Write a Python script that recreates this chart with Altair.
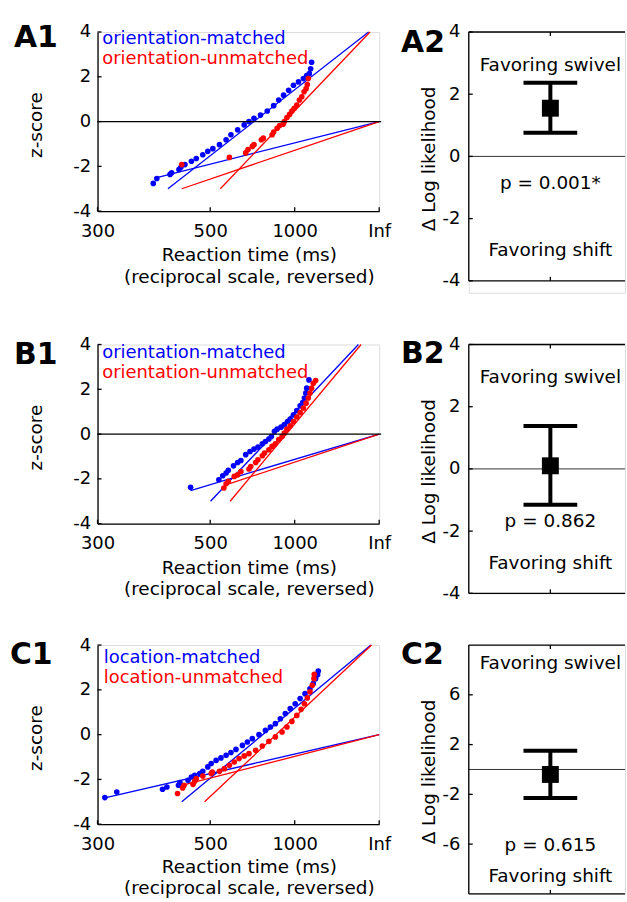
import math
import altair as alt
import pandas as pd

INF = float("inf")
FONT = "DejaVu Sans"
BLUE = "#0000ff"
RED = "#ff0000"

# ---------------- data: reciprobit panels (RT in ms, z-score) ----------------
A1_MATCHED_RT = [374, 380, 404, 407, 422, 426, 435, 450, 462, 479, 493, 508, 529, 552, 570, 597,
                 626, 649, 675, 712, 755, 801, 841, 884, 933, 986, 1047, 1115, 1166, 1209, 1233, 1250]
A1_MATCHED_Z = [-2.76, -2.54, -2.36, -2.29, -2.14, -2.04, -1.92, -1.77, -1.65, -1.48, -1.33, -1.21,
                -1.03, -0.81, -0.59, -0.37, -0.15, 0.0, 0.15, 0.29, 0.47, 0.71, 0.96, 1.18, 1.40,
                1.62, 1.77, 1.92, 2.06, 2.14, 2.36, 2.65]
A1_UNMATCHED_RT = [428, 564, 633, 644, 666, 675, 717, 729, 789, 801, 828, 849, 879, 891, 916, 943,
                   968, 994, 1026, 1059, 1092, 1125, 1156, 1176, 1192]
A1_UNMATCHED_Z = [-1.92, -1.60, -1.40, -1.25, -1.11, -1.03, -0.81, -0.74, -0.59, -0.47, -0.30, -0.18,
                  -0.12, 0.0, 0.18, 0.32, 0.47, 0.59, 0.74, 0.96, 1.11, 1.33, 1.47, 1.65, 1.92]
A1_FIT_MATCHED_MAIN_RT = [400, 8000]
A1_FIT_MATCHED_MAIN_Z = [-3, 4]
A1_FIT_MATCHED_EARLY_RT = [380, INF]
A1_FIT_MATCHED_EARLY_Z = [-2.5, 0]
A1_FIT_UNMATCHED_MAIN_RT = [532, 9200]
A1_FIT_UNMATCHED_MAIN_Z = [-3, 4]
A1_FIT_UNMATCHED_EARLY_RT = [428, INF]
A1_FIT_UNMATCHED_EARLY_Z = [-3, 0]
A1_LEGEND = ["orientation-matched", "orientation-unmatched"]

B1_MATCHED_RT = [448, 527, 540, 552, 560, 580, 597, 611, 633, 654, 675, 697, 723, 743, 766, 784,
                 807, 828, 861, 891, 922, 950, 986, 1026, 1069, 1105, 1130, 1151, 1166, 1203]
B1_MATCHED_Z = [-2.38, -2.04, -1.86, -1.74, -1.62, -1.42, -1.27, -1.18, -0.92, -0.78, -0.67, -0.58,
                -0.43, -0.33, -0.22, -0.11, 0.12, 0.22, 0.31, 0.42, 0.56, 0.67, 0.86, 1.05, 1.26,
                1.41, 1.61, 1.83, 2.05, 2.42]
B1_UNMATCHED_RT = [544, 552, 560, 583, 597, 611, 649, 658, 684, 697, 723, 737, 766, 789, 814, 841,
                   870, 891, 916, 950, 986, 1026, 1069, 1115, 1156, 1192, 1221, 1250, 1282, 1330]
B1_UNMATCHED_Z = [-2.41, -2.22, -2.11, -1.89, -1.82, -1.67, -1.56, -1.45, -1.27, -1.15, -0.97, -0.85,
                  -0.70, -0.55, -0.43, -0.25, -0.11, 0.04, 0.22, 0.37, 0.56, 0.76, 0.96, 1.16, 1.38,
                  1.61, 1.83, 2.05, 2.27, 2.39]
B1_FIT_MATCHED_MAIN_RT = [501, 4070]
B1_FIT_MATCHED_MAIN_Z = [-3, 4]
B1_FIT_MATCHED_EARLY_RT = [448, INF]
B1_FIT_MATCHED_EARLY_Z = [-2.52, 0]
B1_FIT_UNMATCHED_MAIN_RT = [567, 4670]
B1_FIT_UNMATCHED_MAIN_Z = [-3, 4]
B1_FIT_UNMATCHED_EARLY_RT = [546, INF]
B1_FIT_UNMATCHED_EARLY_Z = [-2.29, 0]
B1_LEGEND = ["orientation-matched", "orientation-unmatched"]

C1_MATCHED_RT = [308, 322, 390, 398, 421, 424, 442, 450, 458, 471, 479, 493, 503, 518, 534, 552,
                 570, 590, 618, 641, 666, 703, 743, 777, 814, 855, 900, 950, 1006, 1069, 1140,
                 1221, 1282, 1330, 1372, 1387]
C1_MATCHED_Z = [-2.81, -2.56, -2.44, -2.34, -2.26, -2.14, -2.04, -1.89, -1.82, -1.74, -1.64, -1.44,
                -1.29, -1.15, -1.04, -0.92, -0.80, -0.66, -0.48, -0.33, -0.18, 0.0, 0.19, 0.34,
                0.49, 0.71, 0.94, 1.16, 1.38, 1.61, 1.83, 2.05, 2.28, 2.50, 2.68, 2.84]
C1_UNMATCHED_RT = [419, 430, 433, 454, 458, 462, 479, 503, 506, 529, 546, 564, 583, 603, 626, 649,
                   684, 723, 766, 814, 870, 916, 968, 1026, 1082, 1130, 1176, 1221, 1263, 1295, 1302]
C1_UNMATCHED_Z = [-2.63, -2.38, -2.26, -2.22, -2.08, -1.96, -1.85, -1.74, -1.67, -1.64, -1.52, -1.37,
                  -1.22, -1.07, -0.95, -0.85, -0.70, -0.51, -0.30, -0.10, 0.12, 0.34, 0.59, 0.86,
                  1.13, 1.38, 1.64, 1.91, 2.20, 2.50, 2.69]
C1_FIT_MATCHED_MAIN_RT = [428, 10200]
C1_FIT_MATCHED_MAIN_Z = [-3, 4]
C1_FIT_MATCHED_EARLY_RT = [308, INF]
C1_FIT_MATCHED_EARLY_Z = [-2.82, 0]
C1_FIT_UNMATCHED_MAIN_RT = [484, 11100]
C1_FIT_UNMATCHED_MAIN_Z = [-3, 4]
C1_FIT_UNMATCHED_EARLY_RT = [430, INF]
C1_FIT_UNMATCHED_EARLY_Z = [-2.26, 0]
C1_LEGEND = ["location-matched", "location-unmatched"]

X_TICK_RT = [300, 500, 1000, INF]
X_TICK_LABELS = ["300", "500", "1000", "Inf"]
Z_TICKS = [-4, -2, 0, 2, 4]
X_TITLE = ["Reaction time (ms)", "(reciprocal scale, reversed)"]
Z_TITLE = "z-score"

# ---------------- data: model comparison panels ----------------
DLL_LABELS = ["A2", "B2", "C2"]
DLL_MEAN = [1.55, 0.10, -0.40]
DLL_LOW = [0.76, -1.15, -2.30]
DLL_HIGH = [2.37, 1.38, 1.50]
DLL_P_TEXT = ["p = 0.001*", "p = 0.862", "p = 0.615"]
DLL_DOMAINS = [[-4, 4], [-4, 4], [-10, 10]]
DLL_TICKS = [[-4, -2, 0, 2, 4], [-4, -2, 0, 2, 4], [-6, -2, 2, 6]]
DLL_TITLE = "\u0394 Log likelihood"
TXT_SWIVEL = "Favoring swivel"
TXT_SHIFT = "Favoring shift"

# ---------------- layout (pixels) ----------------
LW, LH = 283, 180          # reciprobit plot area
RW, RBOX = 157, 250        # model-comparison plot area (box height)
RCX = 82                   # x of the error bar inside the box
RIGHT_CELL_H = [262, 250, 250]   # row A is taller to reproduce the uneven row gaps
LEFT_LAYOUT = [
    dict(label="A1", label_x=-84, label_y=15.5, leg_x=4.7, leg_y=[12.5, 32.5], zero=True,
         title_y=50, title_lh=21.5),
    dict(label="B1", label_x=-84, label_y=19.8, leg_x=4.7, leg_y=[13.8, 33.8], zero=True,
         title_y=50, title_lh=21.5),
    dict(label="C1", label_x=-88, label_y=19.5, leg_x=6.3, leg_y=[17.8, 37.8], zero=False,
         title_y=49, title_lh=21),
]
RIGHT_LAYOUT = [
    dict(label_y=20.5, text_y=[33, 151.5, 219.5]),
    dict(label_y=18.5, text_y=[32.5, 177.5, 219.5]),
    dict(label_y=19.5, text_y=[18.5, 200.5, 232.5]),
]


def promptness(rt):
    return 0.0 if math.isinf(rt) else -1000.0 / rt


X_TICK_X = [promptness(r) for r in X_TICK_RT]
X_DOMAIN = [X_TICK_X[0], X_TICK_X[-1]]


def label_expr(vals, labels):
    expr = "'%s'" % labels[-1]
    for i in range(len(vals) - 2, -1, -1):
        mid = (vals[i] + vals[i + 1]) / 2
        expr = "datum.value < %.6f ? '%s' : (%s)" % (mid, labels[i], expr)
    return expr


AXIS_STYLE = dict(labelFont=FONT, labelFontSize=18, labelColor="black", titleFont=FONT,
                  titleFontSize=18.5, titleFontWeight="normal", titleColor="black", grid=False,
                  ticks=False, tickSize=0, labelOverlap=False, labelFlush=False)

ONE = pd.DataFrame({"k": [0]})


def text_layer(s, x, y, size=18.5, weight="normal", align="center", baseline="middle",
               color="black"):
    return alt.Chart(pd.DataFrame({"t": [s]})).mark_text(
        align=align, baseline=baseline, font=FONT, fontSize=size, fontWeight=weight, color=color
    ).encode(text="t:N", x=alt.value(x), y=alt.value(y))


def left_panel(lay, m_rt, m_z, u_rt, u_z, fits, legend, anchor=False):
    xs = alt.Scale(domain=X_DOMAIN, nice=False, zero=False)
    ys = alt.Scale(domain=[Z_TICKS[0], Z_TICKS[-1]], nice=False, zero=False)
    cs = alt.Scale(domain=["matched", "unmatched"], range=[BLUE, RED])
    xa = alt.Axis(values=X_TICK_X, labelExpr=label_expr(X_TICK_X, X_TICK_LABELS),
                  domainColor="black", domainWidth=1.3, labelPadding=11, title=X_TITLE,
                  titleX=152, titleY=lay["title_y"], titleAlign="center",
                  titleBaseline="alphabetic", titleLineHeight=lay["title_lh"], **AXIS_STYLE)
    ya = alt.Axis(values=Z_TICKS, labelExpr="'' + datum.value", domainColor="black",
                  domainWidth=1.3, labelPadding=7, title=Z_TITLE, titleX=-62, titleY=93,
                  titleAngle=270, titleAlign="center", titleBaseline="middle", **AXIS_STYLE)

    def X():
        return alt.X("x:Q", scale=xs, axis=xa)

    def Y():
        return alt.Y("z:Q", scale=ys, axis=ya)

    color = alt.Color("cond:N", scale=cs, legend=None)
    pts = pd.DataFrame({
        "cond": ["matched"] * len(m_rt) + ["unmatched"] * len(u_rt),
        "x": [promptness(r) for r in list(m_rt) + list(u_rt)],
        "z": list(m_z) + list(u_z),
    })
    rows = []
    for fid, (cond, rts, zs) in enumerate(fits):
        for r, z in zip(rts, zs):
            rows.append({"fit": fid, "cond": cond, "x": promptness(r), "z": z})
    fit_df = pd.DataFrame(rows)

    layers = [
        alt.Chart(fit_df).mark_line(strokeWidth=1.3).encode(x=X(), y=Y(), color=color,
                                                            detail="fit:N"),
        alt.Chart(pts).mark_circle(size=32, opacity=1).encode(x=X(), y=Y(), color=color),
        alt.Chart(pd.DataFrame({"x": X_TICK_X})).mark_rule(color="black", strokeWidth=1.3)
        .encode(x=X(), y=alt.value(LH), y2=alt.value(LH - 4)),
        alt.Chart(pd.DataFrame({"z": Z_TICKS})).mark_rule(color="black", strokeWidth=1.3)
        .encode(y=Y(), x=alt.value(0), x2=alt.value(4)),
    ]
    if lay["zero"]:
        layers.append(alt.Chart(pd.DataFrame({"z": [0]})).mark_rule(color="black", strokeWidth=1.3)
                      .encode(y=Y(), x=alt.value(0), x2=alt.value(LW + 2)))
    layers.append(text_layer(legend[0], lay["leg_x"], lay["leg_y"][0], size=18, align="left",
                             baseline="alphabetic", color=BLUE))
    layers.append(text_layer(legend[1], lay["leg_x"], lay["leg_y"][1], size=18, align="left",
                             baseline="alphabetic", color=RED))
    layers.append(text_layer(lay["label"], lay["label_x"], lay["label_y"], size=30,
                             weight="bold", align="left", baseline="alphabetic"))
    if anchor:
        layers.append(alt.Chart(ONE).mark_square(size=1, color="white", opacity=1)
                      .encode(x=alt.value(-96.5), y=alt.value(-29)))
    return alt.layer(*layers).properties(width=LW, height=LH)


def right_panel(i):
    lay = RIGHT_LAYOUT[i]
    ys = alt.Scale(domain=DLL_DOMAINS[i], range=[RBOX, 0], nice=False, zero=False)
    ya = alt.Axis(values=DLL_TICKS[i], labelExpr="'' + datum.value", domain=False,
                  labelPadding=9, title=DLL_TITLE, titleX=-40, titleY=127, titleAngle=270,
                  titleAlign="center", titleBaseline="middle", **AXIS_STYLE)
    df = pd.DataFrame({"mean": [DLL_MEAN[i]], "low": [DLL_LOW[i]], "high": [DLL_HIGH[i]]})

    def Y(f):
        return alt.Y(f + ":Q", scale=ys, axis=ya)

    cx = alt.value(RCX)
    tick_df = pd.DataFrame({"v": DLL_TICKS[i]})
    frame = dict(color="black", strokeWidth=1.3)
    layers = [
        # zero reference line
        alt.Chart(pd.DataFrame({"v": [0]})).mark_rule(color="#333333", strokeWidth=1)
        .encode(y=Y("v"), x=alt.value(0), x2=alt.value(RW)),
        # box frame (right edge lies outside the window)
        alt.Chart(ONE).mark_rule(**frame).encode(x=alt.value(0), y=alt.value(0),
                                                 y2=alt.value(RBOX)),
        alt.Chart(ONE).mark_rule(**frame).encode(y=alt.value(0), x=alt.value(0),
                                                 x2=alt.value(RW)),
        alt.Chart(ONE).mark_rule(**frame).encode(y=alt.value(RBOX), x=alt.value(0),
                                                 x2=alt.value(RW)),
        # inward ticks
        alt.Chart(tick_df).mark_rule(**frame).encode(y=Y("v"), x=alt.value(0), x2=alt.value(4)),
        alt.Chart(ONE).mark_rule(**frame).encode(x=cx, y=alt.value(0), y2=alt.value(4)),
        alt.Chart(ONE).mark_rule(**frame).encode(x=cx, y=alt.value(RBOX), y2=alt.value(RBOX - 4)),
        # error bar
        alt.Chart(df).mark_rule(color="black", strokeWidth=4)
        .encode(x=cx, y=Y("low"), y2="high:Q"),
        alt.Chart(df).mark_tick(orient="horizontal", size=54, thickness=4, color="black",
                                opacity=1).encode(x=cx, y=Y("low")),
        alt.Chart(df).mark_tick(orient="horizontal", size=54, thickness=4, color="black",
                                opacity=1).encode(x=cx, y=Y("high")),
        alt.Chart(df).mark_square(size=289, color="black", opacity=1).encode(x=cx, y=Y("mean")),
        text_layer(TXT_SWIVEL, RCX, lay["text_y"][0]),
        text_layer(DLL_P_TEXT[i], RCX, lay["text_y"][1]),
        text_layer(TXT_SHIFT, RCX, lay["text_y"][2]),
        text_layer(DLL_LABELS[i], -68, lay["label_y"], size=30, weight="bold", align="left",
                   baseline="alphabetic"),
    ]
    return alt.layer(*layers).properties(width=RW, height=RIGHT_CELL_H[i])


def fits_of(mm_rt, mm_z, me_rt, me_z, um_rt, um_z, ue_rt, ue_z):
    return [("matched", mm_rt, mm_z), ("matched", me_rt, me_z),
            ("unmatched", um_rt, um_z), ("unmatched", ue_rt, ue_z)]


a1 = left_panel(LEFT_LAYOUT[0], A1_MATCHED_RT, A1_MATCHED_Z, A1_UNMATCHED_RT, A1_UNMATCHED_Z,
                fits_of(A1_FIT_MATCHED_MAIN_RT, A1_FIT_MATCHED_MAIN_Z, A1_FIT_MATCHED_EARLY_RT,
                        A1_FIT_MATCHED_EARLY_Z, A1_FIT_UNMATCHED_MAIN_RT, A1_FIT_UNMATCHED_MAIN_Z,
                        A1_FIT_UNMATCHED_EARLY_RT, A1_FIT_UNMATCHED_EARLY_Z),
                A1_LEGEND, anchor=True)
b1 = left_panel(LEFT_LAYOUT[1], B1_MATCHED_RT, B1_MATCHED_Z, B1_UNMATCHED_RT, B1_UNMATCHED_Z,
                fits_of(B1_FIT_MATCHED_MAIN_RT, B1_FIT_MATCHED_MAIN_Z, B1_FIT_MATCHED_EARLY_RT,
                        B1_FIT_MATCHED_EARLY_Z, B1_FIT_UNMATCHED_MAIN_RT, B1_FIT_UNMATCHED_MAIN_Z,
                        B1_FIT_UNMATCHED_EARLY_RT, B1_FIT_UNMATCHED_EARLY_Z),
                B1_LEGEND)
c1 = left_panel(LEFT_LAYOUT[2], C1_MATCHED_RT, C1_MATCHED_Z, C1_UNMATCHED_RT, C1_UNMATCHED_Z,
                fits_of(C1_FIT_MATCHED_MAIN_RT, C1_FIT_MATCHED_MAIN_Z, C1_FIT_MATCHED_EARLY_RT,
                        C1_FIT_MATCHED_EARLY_Z, C1_FIT_UNMATCHED_MAIN_RT, C1_FIT_UNMATCHED_MAIN_Z,
                        C1_FIT_UNMATCHED_EARLY_RT, C1_FIT_UNMATCHED_EARLY_Z),
                C1_LEGEND)

chart = alt.concat(
    a1, right_panel(0),
    b1, right_panel(1),
    c1, right_panel(2),
    columns=2, spacing={"row": 52, "column": 90}, bounds="flush",
).properties(
    padding={"left": 0, "top": 0, "right": 0, "bottom": 0}
).configure_view(stroke=None).configure(font=FONT)

chart.save("out.html", embed_options={"renderer": "svg", "actions": False})
